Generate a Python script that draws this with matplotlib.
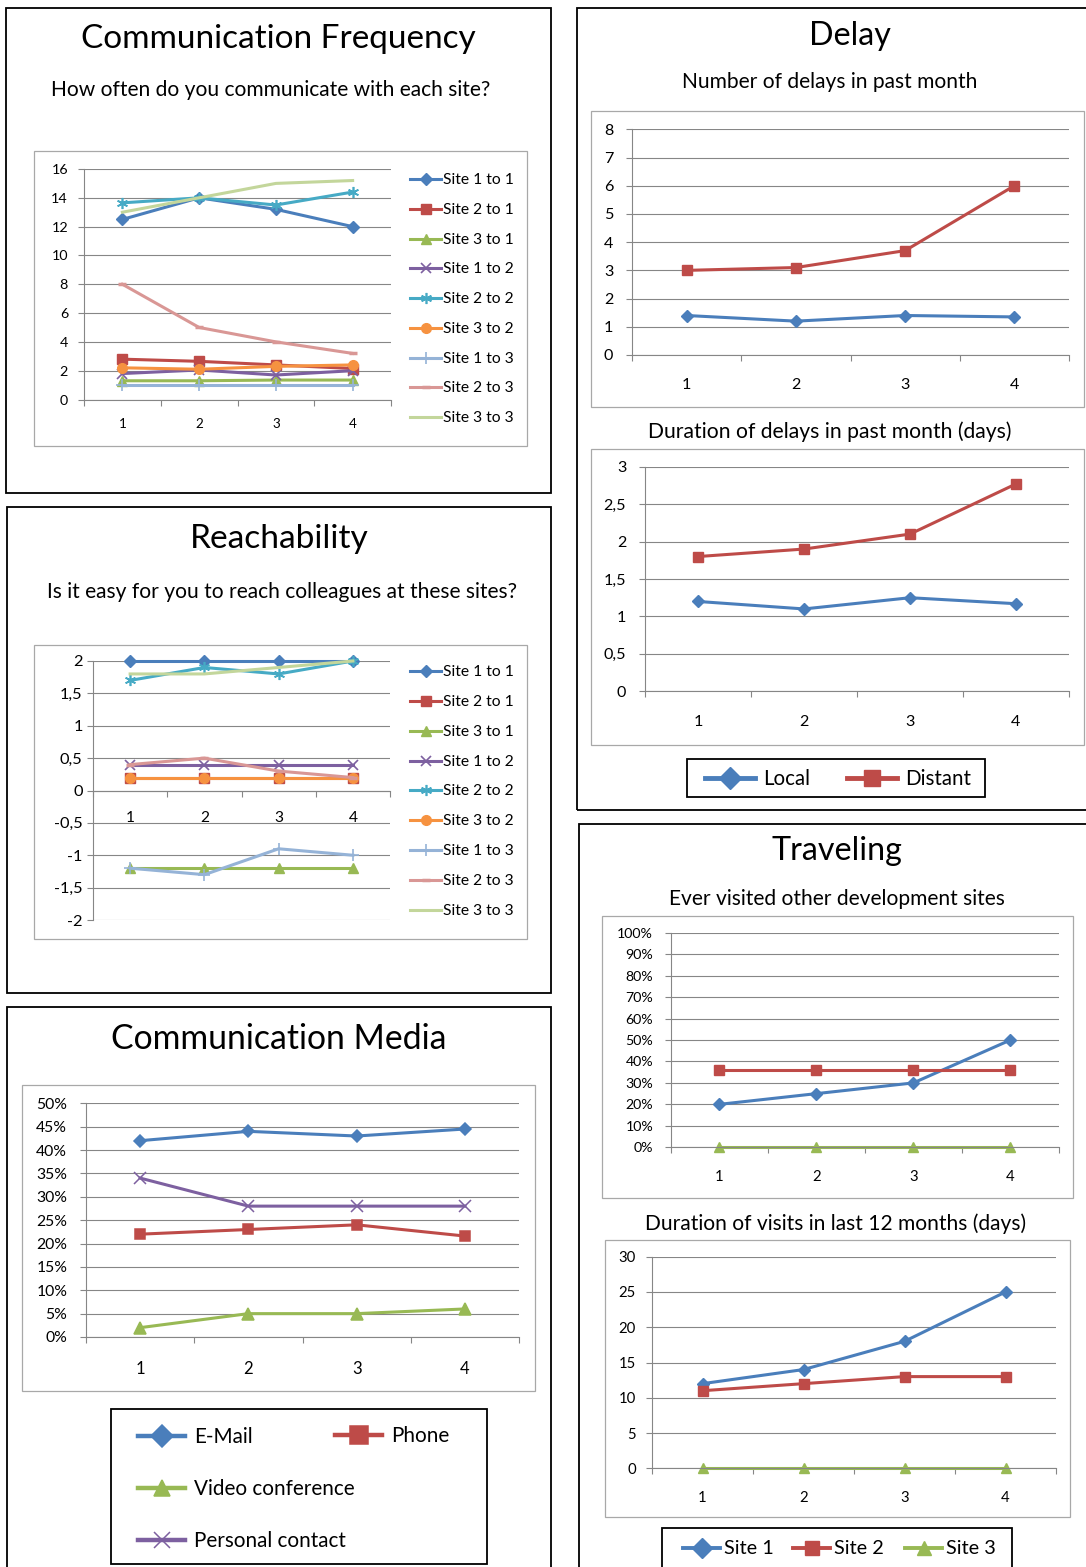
import matplotlib
matplotlib.use('Agg')
import matplotlib.pyplot as plt
from matplotlib.patches import Rectangle
from matplotlib.lines import Line2D
import matplotlib.ticker as mticker

# ---------------- data ----------------
cats = [1, 2, 3, 4]

# Communication Frequency
cf_labels = ['Site 1 to 1', 'Site 2 to 1', 'Site 3 to 1', 'Site 1 to 2', 'Site 2 to 2',
             'Site 3 to 2', 'Site 1 to 3', 'Site 2 to 3', 'Site 3 to 3']
cf_s1to1 = [12.5, 14.0, 13.2, 12.0]
cf_s2to1 = [2.8, 2.65, 2.4, 2.15]
cf_s3to1 = [1.3, 1.3, 1.35, 1.35]
cf_s1to2 = [1.8, 2.05, 1.7, 2.0]
cf_s2to2 = [13.65, 14.0, 13.5, 14.4]
cf_s3to2 = [2.2, 2.1, 2.3, 2.4]
cf_s1to3 = [1.0, 1.0, 1.0, 1.0]
cf_s2to3 = [8.0, 5.0, 4.0, 3.2]
cf_s3to3 = [13.0, 14.0, 15.0, 15.2]
cf_yticks = [0, 2, 4, 6, 8, 10, 12, 14, 16]

# Reachability
re_s1to1 = [2.0, 2.0, 2.0, 2.0]
re_s2to1 = [0.2, 0.2, 0.2, 0.2]
re_s3to1 = [-1.2, -1.2, -1.2, -1.2]
re_s1to2 = [0.4, 0.4, 0.4, 0.4]
re_s2to2 = [1.7, 1.9, 1.8, 2.0]
re_s3to2 = [0.2, 0.2, 0.2, 0.2]
re_s1to3 = [-1.2, -1.3, -0.9, -1.0]
re_s2to3 = [0.4, 0.5, 0.3, 0.2]
re_s3to3 = [1.8, 1.8, 1.9, 2.0]
re_yticks = [-2, -1.5, -1, -0.5, 0, 0.5, 1, 1.5, 2]

# Communication Media
cm_labels = ['E-Mail', 'Phone', 'Video conference', 'Personal contact']
cm_email = [0.42, 0.44, 0.43, 0.445]
cm_phone = [0.22, 0.23, 0.24, 0.216]
cm_video = [0.02, 0.05, 0.05, 0.06]
cm_personal = [0.34, 0.28, 0.28, 0.28]
cm_yticks = [0, 0.05, 0.10, 0.15, 0.20, 0.25, 0.30, 0.35, 0.40, 0.45, 0.50]

# Delay
delay_labels = ['Local', 'Distant']
delay_num_local = [1.4, 1.2, 1.4, 1.35]
delay_num_distant = [3.0, 3.1, 3.7, 6.0]
delay_num_yticks = [0, 1, 2, 3, 4, 5, 6, 7, 8]
delay_dur_local = [1.2, 1.1, 1.25, 1.17]
delay_dur_distant = [1.8, 1.9, 2.1, 2.77]
delay_dur_yticks = [0, 0.5, 1, 1.5, 2, 2.5, 3]

# Traveling
trav_labels = ['Site 1', 'Site 2', 'Site 3']
trav_visit_s1 = [0.20, 0.25, 0.30, 0.50]
trav_visit_s2 = [0.36, 0.36, 0.36, 0.36]
trav_visit_s3 = [0.0, 0.0, 0.0, 0.0]
trav_visit_yticks = [0, 0.1, 0.2, 0.3, 0.4, 0.5, 0.6, 0.7, 0.8, 0.9, 1.0]
trav_dur_s1 = [12, 14, 18, 25]
trav_dur_s2 = [11, 12, 13, 13]
trav_dur_s3 = [0, 0, 0, 0]
trav_dur_yticks = [0, 5, 10, 15, 20, 25, 30]

# ---------------- styling ----------------
W, H = 1086, 1567
plt.rcParams['font.family'] = ['Lato', 'DejaVu Sans']
BLUE, RED, GREEN, PURPLE = '#4A7EBB', '#BE4B48', '#98B954', '#7D60A0'
TEAL, ORANGE, LBLUE, PINK, LGREEN = '#46AAC5', '#F69240', '#95B3D7', '#D99795', '#C3D69B'
GRID = '#868686'
BOXGRAY = '#A8A8A8'
LW = 2.2

fig = plt.figure(figsize=(W / 100, H / 100), dpi=100)
renderer = fig.canvas.get_renderer()


def fit_size(s, target_px, base=20):
    t = fig.text(0, 0, s, fontsize=base)
    w = t.get_window_extent(renderer).width
    t.remove()
    return base * target_px / w


def ctext(s, cx, cy, width_px):
    fig.text(cx / W, 1 - cy / H, s, ha='center', va='center',
             fontsize=fit_size(s, width_px), color='black')


def rect(l, t, r, b, ec='black', lw=1.3):
    fig.add_artist(Rectangle((l / W, 1 - b / H), (r - l) / W, (b - t) / H,
                             transform=fig.transFigure, fill=False, ec=ec, lw=lw))


def add_ax(l, t, r, b):
    return fig.add_axes([l / W, 1 - b / H, (r - l) / W, (b - t) / H])


def style(ax, ylim, yticks, yfmt, ysize, xsize, ypad, xpad, zero_axis=False):
    ax.set_xlim(0.5, 4.5)
    ax.set_ylim(*ylim)
    ax.set_yticks(yticks)
    ax.yaxis.set_major_formatter(yfmt)
    ax.set_xticks(cats)
    ax.set_xticklabels([str(c) for c in cats])
    ax.set_xticks([0.5, 1.5, 2.5, 3.5, 4.5], minor=True)
    ax.yaxis.grid(True, color=GRID, lw=0.8)
    ax.set_axisbelow(True)
    for s in ['top', 'right']:
        ax.spines[s].set_visible(False)
    for s in ['left', 'bottom']:
        ax.spines[s].set_color(GRID)
        ax.spines[s].set_linewidth(0.8)
    if zero_axis:
        ax.spines['bottom'].set_position(('data', 0))
    ax.tick_params(axis='x', which='major', length=0, pad=xpad, labelsize=xsize)
    ax.tick_params(axis='x', which='minor', length=4, width=0.8, color=GRID, direction='out')
    ax.tick_params(axis='y', which='major', length=4.5, width=0.8, color=GRID, pad=ypad,
                   labelsize=ysize)
    ax.patch.set_alpha(0)


def legend_entry(handle, label, x, y, hl_px, fs, gap_px):
    fs_px = fs * 100 / 72
    fig.legend([handle], [label], loc='center left', bbox_to_anchor=(x / W, 1 - y / H),
               frameon=False, borderpad=0, borderaxespad=0, handlelength=hl_px / fs_px,
               handletextpad=gap_px / fs_px, fontsize=fs, numpoints=1)


comma_fmt = mticker.FuncFormatter(lambda v, p: f'{v:g}'.replace('.', ','))
plain_fmt = mticker.FuncFormatter(lambda v, p: f'{v:g}')
pct_fmt = mticker.PercentFormatter(xmax=1, decimals=0)

# ---------------- Communication Frequency ----------------
rect(6, 8, 551, 493)
rect(34, 151, 527, 446, ec=BOXGRAY, lw=0.9)
ctext('Communication Frequency', 278.5, 39, 397)
ctext('How often do you communicate with each site?', 271, 90, 442)
ax = add_ax(84, 169, 391, 399.5)
fs_cf = fit_size('16', 16.5)
style(ax, (0, 16), cf_yticks, plain_fmt, fs_cf, fs_cf * 0.95, 7, 13.5)
cf_series = [
    (cf_s1to1, BLUE, 'D', 6.0, 1), (cf_s2to1, RED, 's', 6.5, 1), (cf_s3to1, GREEN, '^', 7, 1),
    (cf_s1to2, PURPLE, 'x', 7, 1.2), (cf_s2to2, TEAL, (6, 2, 0), 8, 1.2),
    (cf_s3to2, ORANGE, 'o', 7, 1), (cf_s1to3, LBLUE, '+', 9, 1.2),
    (cf_s2to3, PINK, '_', 6, 2.5), (cf_s3to3, LGREEN, 'None', 6, 1)]
cf_lines = []
for vals, col, mk, ms, mew in cf_series:
    ln, = ax.plot(cats, vals, color=col, lw=LW, marker=mk, ms=ms, mfc=col, mec=col,
                  mew=mew, clip_on=False)
    cf_lines.append(ln)
fs_leg = fit_size('Site 1 to 1', 71)
for i, (ln, lab) in enumerate(zip(cf_lines, cf_labels)):
    legend_entry(ln, lab, 410, [180, 210, 240, 269, 299, 329, 359, 388, 418][i], 31, fs_leg, 2)

# ---------------- Reachability ----------------
rect(7, 507, 551, 993)
rect(34, 645, 527, 939, ec=BOXGRAY, lw=0.9)
ctext('Reachability', 279.5, 539, 179)
ctext('Is it easy for you to reach colleagues at these sites?', 282, 592, 472)
ax = add_ax(93, 661, 390, 920)
fs_re = fs_cf * 1.15
style(ax, (-2, 2), re_yticks, comma_fmt, fs_re, fs_re * 0.95, 3, 15, zero_axis=True)
re_vals = [re_s1to1, re_s2to1, re_s3to1, re_s1to2, re_s2to2, re_s3to2, re_s1to3, re_s2to3, re_s3to3]
re_lines = []
for vals, (_, col, mk, ms, mew) in zip(re_vals, cf_series):
    ln, = ax.plot(cats, vals, color=col, lw=LW, marker=mk, ms=ms, mfc=col, mec=col,
                  mew=mew, clip_on=False)
    re_lines.append(ln)
for i, (ln, lab) in enumerate(zip(re_lines, cf_labels)):
    legend_entry(ln, lab, 410, [672, 702, 732, 762, 791, 821, 851, 881, 911][i], 31, fs_leg, 2)

# ---------------- Communication Media ----------------
rect(7, 1007, 551, 1580)
rect(22, 1085, 535, 1391, ec=BOXGRAY, lw=0.9)
ctext('Communication Media', 279, 1039, 336)
ax = add_ax(86, 1103.3, 519, 1337)
fs_cm = fit_size('50%', 31)
style(ax, (0, 0.5), cm_yticks, pct_fmt, fs_cm, fs_cm * 1.05, 9, 17.5)
cm_vals = [cm_email, cm_phone, cm_video, cm_personal]
cm_styles = [(BLUE, 'D', 6), (RED, 's', 7), (GREEN, '^', 8), (PURPLE, 'x', 8)]
for vals, (col, mk, ms) in zip(cm_vals, cm_styles):
    ax.plot(cats, vals, color=col, lw=LW, marker=mk, ms=ms, mfc=col, mec=col, mew=1.1,
            clip_on=False)
rect(111, 1409, 487, 1564, lw=1.3)
fs_cml = fit_size('Video conference', 161)
cm_leg_pos = [(138, 1437), (335, 1436), (138, 1489), (138, 1541)]
cm_leg_ms = [11, 13, 12, 12]
for lab, (col, mk, _), (x, y), ms in zip(cm_labels, cm_styles, cm_leg_pos, cm_leg_ms):
    h = Line2D([], [], color=col, lw=3.2, marker=mk, ms=ms, mfc=col, mec=col, mew=1.1)
    legend_entry(h, lab, x, y, 47, fs_cml, 9)

# ---------------- Delay ----------------
rect(577, 8, 1095, 810)
ctext('Delay', 850, 36, 82)
ctext('Number of delays in past month', 830, 82, 296)
rect(591, 111, 1084, 407, ec=BOXGRAY, lw=0.9)
ax = add_ax(632, 129.3, 1069, 355)
fs_d = fit_size('2,5', 20) * 1.12
style(ax, (0, 8), delay_num_yticks, plain_fmt, fs_d, fs_d, 9, 16.5)
ax.plot(cats, delay_num_local, color=BLUE, lw=LW, marker='D', ms=6, mfc=BLUE, mec=BLUE, clip_on=False)
ax.plot(cats, delay_num_distant, color=RED, lw=LW, marker='s', ms=7, mfc=RED, mec=RED, clip_on=False)

ctext('Duration of delays in past month (days)', 830, 432, 364)
rect(591, 449, 1084, 745, ec=BOXGRAY, lw=0.9)
ax = add_ax(645, 466.7, 1069, 691.3)
style(ax, (0, 3), delay_dur_yticks, comma_fmt, fs_d, fs_d, 9, 17)
ax.plot(cats, delay_dur_local, color=BLUE, lw=LW, marker='D', ms=6, mfc=BLUE, mec=BLUE, clip_on=False)
ax.plot(cats, delay_dur_distant, color=RED, lw=LW, marker='s', ms=7, mfc=RED, mec=RED, clip_on=False)

rect(687, 759, 985, 797, lw=1.3)
fs_dl = fit_size('Distant', 66)
legend_entry(Line2D([], [], color=BLUE, lw=3.5, marker='D', ms=11, mfc=BLUE, mec=BLUE),
             delay_labels[0], 705, 779, 50, fs_dl, 8)
legend_entry(Line2D([], [], color=RED, lw=3.5, marker='s', ms=12, mfc=RED, mec=RED),
             delay_labels[1], 847, 779, 50, fs_dl, 8)

# ---------------- Traveling ----------------
rect(579, 824, 1095, 1580)
ctext('Traveling', 836.5, 851, 131)
ctext('Ever visited other development sites', 836.5, 899, 337)
rect(602, 916, 1073, 1198, ec=BOXGRAY, lw=0.9)
ax = add_ax(670.5, 932.7, 1059, 1147.3)
fs_t = fit_size('100%', 36)
style(ax, (0, 1), trav_visit_yticks, pct_fmt, fs_t, fs_t * 1.05, 8, 16.5)
for vals, col, mk, ms in [(trav_visit_s1, BLUE, 'D', 6), (trav_visit_s2, RED, 's', 7),
                          (trav_visit_s3, GREEN, '^', 7.5)]:
    ax.plot(cats, vals, color=col, lw=LW, marker=mk, ms=ms, mfc=col, mec=col, clip_on=False)

ctext('Duration of visits in last 12 months (days)', 836, 1224, 382)
rect(605, 1240, 1070, 1517, ec=BOXGRAY, lw=0.9)
ax = add_ax(652, 1256.7, 1056, 1468.3)
style(ax, (0, 30), trav_dur_yticks, plain_fmt, fs_t * 1.05, fs_t * 1.05, 7, 16.5)
for vals, col, mk, ms in [(trav_dur_s1, BLUE, 'D', 6), (trav_dur_s2, RED, 's', 7),
                          (trav_dur_s3, GREEN, '^', 7.5)]:
    ax.plot(cats, vals, color=col, lw=LW, marker=mk, ms=ms, mfc=col, mec=col, clip_on=False)

rect(662, 1528, 1012, 1580, lw=1.3)
fs_tl = fit_size('Site 1', 50)
for lab, col, mk, x in [(trav_labels[0], BLUE, 'D', 683), (trav_labels[1], RED, 's', 793),
                        (trav_labels[2], GREEN, '^', 905)]:
    legend_entry(Line2D([], [], color=col, lw=2.8, marker=mk, ms=10, mfc=col, mec=col),
                 lab, x, 1549, 37, fs_tl, 4)

fig.savefig('out.png', dpi=100)
